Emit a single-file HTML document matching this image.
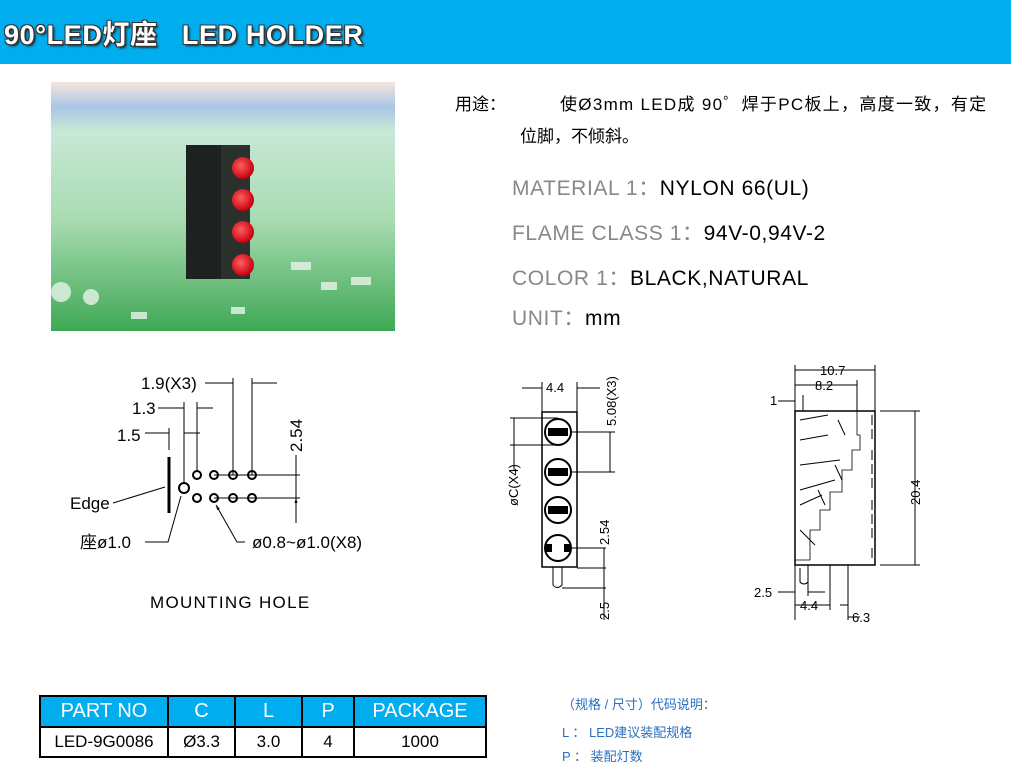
<!DOCTYPE html>
<html><head><meta charset="utf-8"><style>
body{margin:0;width:1011px;height:773px;background:#fff;position:relative;overflow:hidden;font-family:"Liberation Sans","Noto Sans CJK SC",sans-serif}
.hdr{position:absolute;left:0;top:0;width:1011px;height:64px;background:#00aeef}
.ttl{position:absolute;left:4px;top:13px;font-size:27px;color:#fff;font-weight:bold;letter-spacing:0.6px;text-shadow:1px 1px 0 #333,-1px -1px 0 #333,1px -1px 0 #333,-1px 1px 0 #333,2px 2px 2px #222;white-space:pre}
.t{position:absolute;white-space:pre;color:#000}
.g{color:#888}
table{position:absolute;left:39px;top:695px;border-collapse:collapse;font-size:17px}
td{border:2px solid #000;text-align:center;padding:0;height:28px}
tr.h td{background:#00aeef;color:#fff;font-size:20px;height:29px}
.b{position:absolute;color:#2a6fc0;font-size:13px;white-space:pre}
</style></head><body>
<div class="hdr"></div>
<div class="ttl">90°LED灯座   LED HOLDER</div>

<svg style="position:absolute;left:51px;top:82px" width="344" height="249">
<defs>
<linearGradient id="bg" x1="0" y1="0" x2="0" y2="1">
<stop offset="0" stop-color="#f6e6dc"/><stop offset="0.1" stop-color="#a9c6e6"/><stop offset="0.2" stop-color="#c8e8d6"/><stop offset="0.55" stop-color="#a9dcb2"/><stop offset="1" stop-color="#3fa855"/></linearGradient>
<radialGradient id="led" cx="0.4" cy="0.4" r="0.6"><stop offset="0" stop-color="#ff6060"/><stop offset="1" stop-color="#c80010"/></radialGradient>
</defs>
<rect width="344" height="249" fill="url(#bg)"/>
<g fill="#e8f4ea" opacity="0.8">
<circle cx="10" cy="210" r="10"/><circle cx="40" cy="215" r="8"/><rect x="240" y="180" width="20" height="8"/><rect x="270" y="200" width="16" height="8"/><rect x="300" y="195" width="20" height="8"/><rect x="80" y="230" width="16" height="7"/><rect x="180" y="225" width="14" height="7"/>
</g>
<rect x="135" y="63" width="64" height="134" fill="#1d2220"/>
<rect x="170" y="63" width="29" height="134" fill="#2a302c"/>
<circle cx="192" cy="86" r="11" fill="url(#led)"/>
<circle cx="192" cy="118" r="11" fill="url(#led)"/>
<circle cx="192" cy="150" r="11" fill="url(#led)"/>
<circle cx="192" cy="183" r="11" fill="url(#led)"/>
</svg>

<div class="t" style="left:455px;top:90px;font-size:17px">用途：</div>
<div class="t" style="left:560px;top:90px;font-size:17px;letter-spacing:1.3px">使Ø3mm LED成 90゜焊于PC板上，高度一致，有定</div>
<div class="t" style="left:520px;top:122px;font-size:17px">位脚，不倾斜。</div>
<div class="t" style="left:512px;top:172px;font-size:21px;letter-spacing:0.6px"><span class="g">MATERIAL 1：</span>NYLON 66(UL)</div>
<div class="t" style="left:512px;top:217px;font-size:21px;letter-spacing:0.6px"><span class="g">FLAME CLASS 1：</span>94V-0,94V-2</div>
<div class="t" style="left:512px;top:262px;font-size:21px;letter-spacing:0.6px"><span class="g">COLOR 1：</span>BLACK,NATURAL</div>
<div class="t" style="left:512px;top:302px;font-size:21px;letter-spacing:0.6px"><span class="g">UNIT：</span>mm</div>

<svg style="position:absolute;left:0;top:0" width="1011" height="773" font-family="Liberation Sans, Noto Sans CJK SC, sans-serif" fill="none" stroke="#000" stroke-width="1">
<defs><marker id="a" viewBox="0 0 10 10" refX="10" refY="5" markerWidth="7" markerHeight="5" orient="auto"><path d="M0 2L10 5L0 8z" fill="#000" stroke="none"/></marker></defs>
<!-- mounting hole -->
<g font-size="17" fill="#000" stroke="none">
<text x="141" y="389">1.9(X3)</text>
<text x="132" y="414">1.3</text>
<text x="117" y="441">1.5</text>
<text x="70" y="509">Edge</text>
<text x="80" y="548">座ø1.0</text>
<text x="252" y="548">ø0.8~ø1.0(X8)</text>
<text x="150" y="608" letter-spacing="1.3">MOUNTING  HOLE</text>
<text transform="translate(302,452) rotate(-90)">2.54</text>
</g>
<path d="M205 383H233M277 383H252M233 378V475M252 378V475M158 408H184M213 408H197M184 402V484M197 402V471M145 433H169M200 433H184M169 428V450M214 475H300M214 498H300M113 503L165 487M145 542H168L181 496M245 542H237L216 505" marker-end="url(#a)"/>
<path d="M296 455V475M296 523V498" marker-end="url(#a)"/>
<path d="M296 475V498"/>
<path d="M169 457V513" stroke-width="3"/>
<g stroke-width="2">
<circle cx="197" cy="475" r="4"/><circle cx="214" cy="475" r="4"/><circle cx="233" cy="475" r="4"/><circle cx="252" cy="475" r="4"/>
<circle cx="197" cy="498" r="4"/><circle cx="214" cy="498" r="4"/><circle cx="233" cy="498" r="4"/><circle cx="252" cy="498" r="4"/>
<circle cx="184" cy="488" r="5"/>
</g>
<!-- front view -->
<rect x="542" y="412" width="35" height="155" stroke-width="1.5"/>
<g stroke-width="2">
<circle cx="558" cy="432" r="13"/><circle cx="558" cy="472" r="13"/><circle cx="558" cy="510" r="13"/><circle cx="558" cy="548" r="13"/>
</g>
<g fill="#000" stroke="none">
<rect x="548" y="428" width="20" height="8"/><rect x="548" y="468" width="20" height="8"/><rect x="548" y="506" width="20" height="8"/>
<rect x="546" y="544" width="6" height="8"/><rect x="564" y="544" width="6" height="8"/>
</g>
<path d="M553 567V585Q557 590 562 585V567"/>
<path d="M522 388H542M600 388H577M542 382V412M577 382V412M571 432H615M571 472H615M610 432V472M510 418H558M510 445H558M514 418V445M514 445V470M571 548H606M577 568H606M562 588H606M604 548V620"/>
<g font-size="13" fill="#000" stroke="none">
<text x="546" y="392">4.4</text>
<text transform="translate(616,426) rotate(-90)">5.08(X3)</text>
<text transform="translate(518,506) rotate(-90)">øC(X4)</text>
<text transform="translate(609,545) rotate(-90)">2.54</text>
<text transform="translate(609,620) rotate(-90)">2.5</text>
</g>
<!-- side view -->
<rect x="795" y="411" width="80" height="154" stroke-width="1.5"/>
<path d="M857 411V435H860V450H852V470H842V492H830V510H820V530H810V560H795" stroke-width="0.8"/>
<path d="M872 415V440M872 450V490M872 500V540M872 548V560" stroke-dasharray="10 4"/>
<path d="M800 420L828 415M800 440L828 435M800 465L840 460M800 490L835 480M800 505L822 495M800 530L815 545M838 420L845 435M835 465L842 480M818 490L825 505"/>
<path d="M800 568V582Q804 586 808 582V568"/>
<path d="M795 365V411M875 365V411M857 380V411M795 370H875M795 385H857M778 401H795M803 395V411M880 411H920M880 565H920M915 411V565M795 565V620M808 565V596M830 565V610M848 565V620M778 592H795M808 592H825M795 605H830M840 605H848M848 617H860"/>
<g font-size="13" fill="#000" stroke="none">
<text x="820" y="375">10.7</text>
<text x="815" y="390">8.2</text>
<text x="770" y="405">1</text>
<text transform="translate(920,505) rotate(-90)">20.4</text>
<text x="754" y="597">2.5</text>
<text x="800" y="610">4.4</text>
<text x="852" y="622">6.3</text>
</g>
</svg>

<table>
<tr class="h"><td style="width:126px">PART NO</td><td style="width:65px">C</td><td style="width:65px">L</td><td style="width:50px">P</td><td style="width:130px">PACKAGE</td></tr>
<tr><td>LED-9G0086</td><td>Ø3.3</td><td>3.0</td><td>4</td><td>1000</td></tr>
</table>
<div class="b" style="left:562px;top:694px">（规格 / 尺寸）代码说明：</div>
<div class="b" style="left:562px;top:722px">L ： LED建议装配规格</div>
<div class="b" style="left:562px;top:746px">P ： 装配灯数</div>
</body></html>
